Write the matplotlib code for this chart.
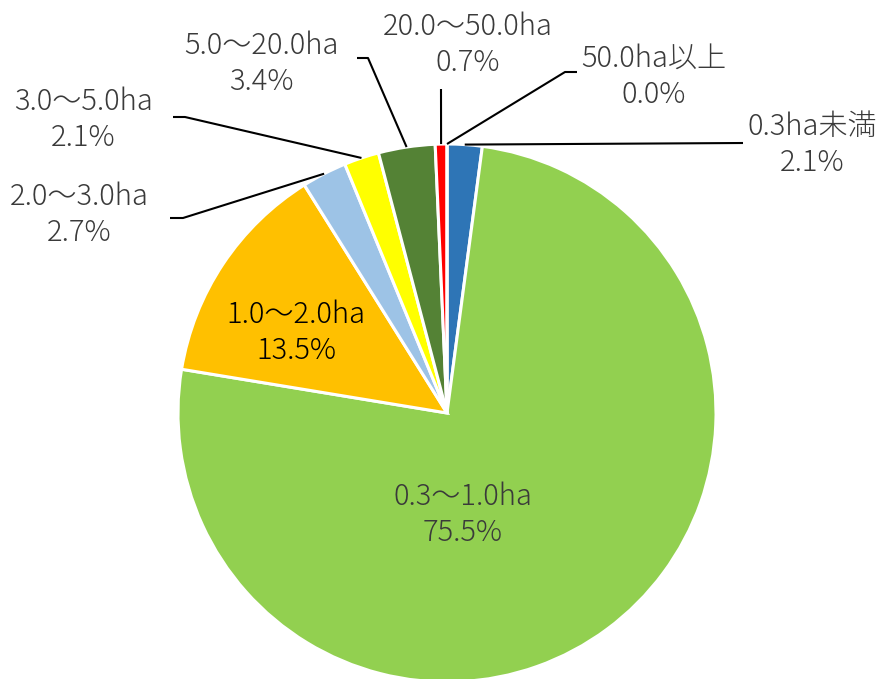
import numpy as np
import matplotlib
matplotlib.use("Agg")
import matplotlib.pyplot as plt

plt.rcParams['font.family'] = ['Noto Sans CJK JP', 'DejaVu Sans']

# area classes and share of holdings (%)
labels = ['0.3ha未満', '0.3～1.0ha', '1.0～2.0ha', '2.0～3.0ha',
          '3.0～5.0ha', '5.0～20.0ha', '20.0～50.0ha', '50.0ha以上']
shares = [2.1, 75.5, 13.5, 2.7, 2.1, 3.4, 0.7, 0.0]
colors = ['#2E75B6', '#92D050', '#FFC000', '#9DC3E6',
          '#FFFF00', '#548235', '#FF0000', '#7030A0']

W, H = 877, 679
fig = plt.figure(figsize=(W / 100, H / 100), dpi=100)
ax = fig.add_axes([0, 0, 1, 1])

cx, cy, r = 447, H - 413, 269
wedges, _ = ax.pie(shares, colors=colors, startangle=90, counterclock=False,
                   center=(cx, cy), radius=r, frame=True,
                   wedgeprops=dict(edgecolor='white', linewidth=2.2))
ax.set_xlim(0, W)
ax.set_ylim(0, H)
ax.axis('off')

def edge_point(w):
    a = np.deg2rad((w.theta1 + w.theta2) / 2)
    return cx + r * np.cos(a), cy + r * np.sin(a)

fs = 21
tc = '#3a3a3a'
txt = dict(ha='center', va='center', fontsize=fs, linespacing=1.24,
           fontweight='light')

# labels inside the two big slices
ax.text(296, H - 333, '%s\n%.1f%%' % (labels[2], shares[2]), color='black', **txt)
ax.text(463, H - 515, '%s\n%.1f%%' % (labels[1], shares[1]), color=tc, **txt)

# outside labels: index, text centre, leader elbow, leader end (pixels from top)
outside = [
    (0, (812, 145), (743, 143), (743, 143)),
    (7, (654, 77), (565, 72), (577, 72)),
    (6, (468, 45), (441, 89), (441, 89)),
    (5, (261, 64), (368, 58), (357, 58)),
    (4, (83, 120), (185, 117), (173, 117)),
    (3, (79, 215), (183, 218), (170, 218)),
]
for i, (tx, ty), (ex, ey), (fx, fy) in outside:
    ax.text(tx, H - ty, '%s\n%.1f%%' % (labels[i], shares[i]), color=tc, **txt)
    px, py = edge_point(wedges[i])
    ax.plot([px, ex, fx], [py, H - ey, H - fy], color='black', lw=1.5,
            solid_capstyle='butt', zorder=5)

fig.savefig('out.png', dpi=100)
